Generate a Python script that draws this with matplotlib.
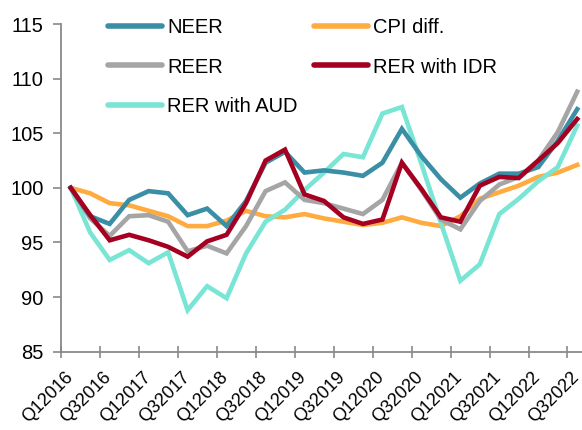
import matplotlib
matplotlib.use("Agg")
import matplotlib.pyplot as plt
import matplotlib.transforms as mtransforms
import numpy as np

plt.rcParams['font.family'] = ['Liberation Sans', 'DejaVu Sans']

quarters = [f"Q{q}{y}" for y in range(2016, 2023) for q in (1, 2, 3, 4)][:27]

neer = [100, 97.4, 96.7, 98.9, 99.7, 99.5, 97.5, 98.1, 96.5, 98.8, 102.3, 103.3, 101.4, 101.6,
        101.4, 101.1, 102.3, 105.4, 102.9, 100.8, 99.1, 100.4, 101.3, 101.3, 101.9, 104.3, 107.2]
reer = [100, 97.2, 95.6, 97.4, 97.5, 96.9, 94.2, 94.7, 94.0, 96.5, 99.7, 100.5, 98.9, 98.6,
        98.1, 97.6, 98.9, 102.3, 99.8, 97.1, 96.2, 98.8, 100.3, 101.0, 102.5, 105.1, 108.8]
cpi_diff = [100, 99.5, 98.6, 98.4, 97.9, 97.4, 96.5, 96.5, 97.0, 97.9, 97.4, 97.3, 97.6, 97.2,
            96.9, 96.6, 96.8, 97.3, 96.8, 96.5, 97.4, 99.0, 99.6, 100.2, 101.0, 101.4, 102.1]
rer_idr = [100, 97.5, 95.2, 95.7, 95.2, 94.6, 93.7, 95.1, 95.7, 98.6, 102.5, 103.5, 99.4, 98.8,
           97.3, 96.7, 97.1, 102.3, 99.9, 97.3, 96.9, 100.2, 101.0, 100.9, 102.5, 104.1, 106.3]
rer_aud = [100, 95.9, 93.4, 94.3, 93.1, 94.1, 88.8, 91.0, 89.9, 94.0, 96.9, 98.0, 99.8, 101.4,
           103.1, 102.8, 106.8, 107.4, 102.2, 96.8, 91.5, 93.0, 97.6, 99.0, 100.6, 101.9, 105.7]

series = [
    ("NEER", neer, "#3A8EA5"),
    ("REER", reer, "#A5A5A5"),
    ("RER with AUD", rer_aud, "#78E5D5"),
    ("CPI diff.", cpi_diff, "#FFAB40"),
    ("RER with IDR", rer_idr, "#A50021"),
]
draw_order = ["CPI diff.", "RER with AUD", "REER", "NEER", "RER with IDR"]

FS = 14.5
XFS = 13
W, H = 582, 430
fig = plt.figure(figsize=(W / 100, H / 100), dpi=100)
n = len(quarters)
cat_px = 19.48
ax = fig.add_axes([61 / W, (H - 351.7) / H, n * cat_px / W, 327.7 / H])

x = np.arange(n)
handles = {}
for name in draw_order:
    for lab, vals, col in series:
        if lab == name:
            h, = ax.plot(x, vals, color=col, lw=3.3, solid_joinstyle='miter', label=lab)
            handles[lab] = h

ax.set_xlim(-0.5, n - 0.5)
ax.set_ylim(85, 115)
ax.set_yticks(np.arange(85, 116, 5))

ax.set_xticks(np.arange(-0.5, n - 0.5, 2))
ax.set_xticklabels([])
ax.tick_params(axis='x', which='major', direction='inout', length=9, width=1.2, color='#898989')
ax.set_xticks(np.arange(0, n, 2), minor=True)
ax.set_xticklabels([quarters[i] for i in range(0, n, 2)], minor=True,
                   rotation=45, ha='right', va='baseline', rotation_mode='anchor', fontsize=XFS)
ax.tick_params(axis='x', which='minor', length=0, pad=19)
shift = mtransforms.ScaledTranslation(2.5 / 100, 0, fig.dpi_scale_trans)
for lbl in ax.get_xticklabels(minor=True):
    lbl.set_transform(lbl.get_transform() + shift)
ax.tick_params(axis='y', direction='out', length=5.5, width=1.2, color='#898989', pad=7,
               labelsize=FS)

for s in ['top', 'right']:
    ax.spines[s].set_visible(False)
for s in ['left', 'bottom']:
    ax.spines[s].set_color('#898989')
    ax.spines[s].set_linewidth(1.3)

leg = ax.legend([handles[l] for l, _, _ in series], [l for l, _, _ in series],
                ncol=2, frameon=False, loc='upper left',
                bbox_to_anchor=(108 / W, 1 - 18 / H), bbox_transform=fig.transFigure,
                fontsize=FS, handlelength=2.69, handletextpad=0.25, columnspacing=0.8,
                labelspacing=1.02, borderaxespad=0, borderpad=0)
for lh in leg.get_lines():
    lh.set_linewidth(4)
    lh.set_solid_capstyle('round')

fig.savefig("out.png", dpi=100)
